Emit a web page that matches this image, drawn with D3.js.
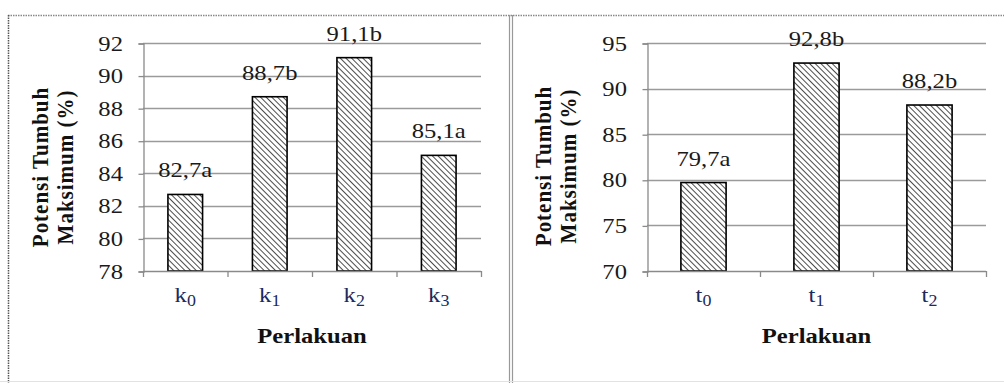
<!DOCTYPE html>
<html>
<head>
<meta charset="utf-8">
<script src="https://cdn.jsdelivr.net/npm/d3@7"></script>
<style>
  html, body { margin: 0; padding: 0; background: #fff; }
  svg { display: block; }
  svg text { font-family: "Liberation Serif", "Times New Roman", serif; }
</style>
</head>
<body>
<svg id="chart" width="1004" height="383"></svg>
<script>
// Perlakuan k (left panel)
const kCategories = ["0", "1", "2", "3"];
const kValues = [82.7, 88.7, 91.1, 85.1];
const kLetters = ["a", "b", "b", "a"];
const kTicks = [78, 80, 82, 84, 86, 88, 90, 92];

// Perlakuan t (right panel)
const tCategories = ["0", "1", "2"];
const tValues = [79.7, 92.8, 88.2];
const tLetters = ["a", "b", "b"];
const tTicks = [70, 75, 80, 85, 90, 95];

const yTitle = ["Potensi Tumbuh", "Maksimum (%)"];
const xTitle = "Perlakuan";

const SX = 1.12;          // slightly wide type
const FONT = "'Liberation Serif', 'Times New Roman', serif";

const svg = d3.select("#chart");

// diagonal hatch fill, strokes running top-left to bottom-right
const defs = svg.append("defs");
const pat = defs.append("pattern")
  .attr("id", "hatch")
  .attr("patternUnits", "userSpaceOnUse")
  .attr("width", 4).attr("height", 4)
  .attr("patternTransform", "rotate(45)");
pat.append("rect").attr("width", 4).attr("height", 4).attr("fill", "#fff");
pat.append("line").attr("x1", 0).attr("y1", 0).attr("x2", 4).attr("y2", 0)
  .attr("stroke", "#111").attr("stroke-width", 1.5);

// frame: dotted top & left edges, double divider, faint bottom line
svg.append("line").attr("x1", 8).attr("x2", 1004).attr("y1", 15.5).attr("y2", 15.5)
  .attr("stroke", "#888").attr("stroke-width", 1.5).attr("stroke-dasharray", "1.5,1");
svg.append("line").attr("x1", 8.5).attr("x2", 8.5).attr("y1", 15).attr("y2", 383)
  .attr("stroke", "#555").attr("stroke-width", 1.5).attr("stroke-dasharray", "1.5,1");
[509.5, 512.5].forEach(x => svg.append("line").attr("x1", x).attr("x2", x)
  .attr("y1", 15).attr("y2", 383).attr("stroke", "#999").attr("stroke-width", 1.2));
svg.append("line").attr("x1", 0).attr("x2", 1004).attr("y1", 381.5).attr("y2", 381.5)
  .attr("stroke", "#e2e2e2").attr("stroke-width", 1);

// text placed at (x, y) and widened horizontally
function wideText(parent, x, y, size, anchor) {
  return parent.append("text")
    .attr("transform", `translate(${x},${y}) scale(${SX},1)`)
    .attr("text-anchor", anchor || "middle")
    .attr("font-family", FONT)
    .attr("font-size", size);
}

function panel(cfg) {
  const { categories, values, letters, ticks, prefix, left, right, top, bottom, barRatio, titleX, titleY, xTitleY } = cfg;
  const g = svg.append("g");

  const x = d3.scaleBand().domain(categories).range([left, right])
    .paddingInner(1 - barRatio).paddingOuter((1 - barRatio) / 2);
  const xb = d3.scaleBand().domain(categories).range([left, right]);
  const y = d3.scaleLinear().domain([ticks[0], ticks[ticks.length - 1]]).range([bottom, top]);

  // gridlines
  g.append("g").selectAll("line").data(ticks.slice(1)).join("line")
    .attr("x1", left).attr("x2", right)
    .attr("y1", d => Math.round(y(d)) + 0.5).attr("y2", d => Math.round(y(d)) + 0.5)
    .attr("stroke", "#9a9a9a").attr("stroke-width", 1.3);

  // y axis (line + outer ticks); labels drawn separately below
  const yAxis = g.append("g").attr("transform", `translate(${left + 0.5},0.5)`)
    .call(d3.axisLeft(y).tickValues(ticks).tickSize(5).tickFormat(""));
  yAxis.select(".domain").attr("stroke", "#8a8a8a").attr("stroke-width", 1.3);
  yAxis.selectAll(".tick line").attr("stroke", "#8a8a8a").attr("stroke-width", 1.3);

  ticks.forEach(t => {
    wideText(g, left - 20, y(t) + 7.5, 22, "end").attr("fill", "#1a1a1a").text(d3.format("d")(t));
  });

  // bars
  g.append("g").selectAll("rect").data(values).join("rect")
    .attr("x", (d, i) => x(categories[i]))
    .attr("width", x.bandwidth())
    .attr("y", d => y(d))
    .attr("height", d => y(ticks[0]) - y(d))
    .attr("fill", "url(#hatch)")
    .attr("stroke", "#000").attr("stroke-width", 1.6);

  // x axis line with category boundary ticks
  g.append("line").attr("x1", left).attr("x2", right)
    .attr("y1", bottom + 0.5).attr("y2", bottom + 0.5)
    .attr("stroke", "#8a8a8a").attr("stroke-width", 1.3);
  const bounds = categories.map(c => xb(c)).concat([right]);
  g.append("g").selectAll("line").data(bounds).join("line")
    .attr("x1", d => d + 0.5).attr("x2", d => d + 0.5)
    .attr("y1", bottom).attr("y2", bottom + 6)
    .attr("stroke", "#8a8a8a").attr("stroke-width", 1.3);

  // value labels
  values.forEach((v, i) => {
    wideText(g, x(categories[i]) + x.bandwidth() / 2, y(v) - 17, 22)
      .attr("fill", "#1a1a1a")
      .text(d3.format(".1f")(v).replace(".", ",") + letters[i]);
  });

  // category labels with subscripts
  categories.forEach(c => {
    const t = wideText(g, xb(c) + xb.bandwidth() / 2, bottom + 31, 22).attr("fill", "#1c2a5e");
    t.append("tspan").text(prefix);
    t.append("tspan").attr("font-size", 16).attr("dy", 4).text(c);
  });

  // x title
  wideText(g, (left + right) / 2, xTitleY, 22)
    .attr("font-weight", "bold").attr("fill", "#111").text(xTitle);

  // y title (two rotated lines)
  yTitle.forEach((t, i) => {
    g.append("text")
      .attr("transform", `translate(${titleX + i * 25},${titleY}) scale(${SX},1) rotate(-90)`)
      .attr("text-anchor", "middle").attr("font-weight", "bold").attr("font-size", 21)
      .attr("font-family", FONT)
      .attr("letter-spacing", 1)
      .attr("fill", "#111").text(t);
  });
}

panel({
  categories: kCategories, values: kValues, letters: kLetters, ticks: kTicks, prefix: "k",
  left: 143, right: 481, top: 43, bottom: 271, barRatio: 0.41, titleX: 48, titleY: 167, xTitleY: 343
});

panel({
  categories: tCategories, values: tValues, letters: tLetters, ticks: tTicks, prefix: "t",
  left: 647, right: 986, top: 43, bottom: 271, barRatio: 0.4, titleX: 551, titleY: 166, xTitleY: 343
});
</script>
</body>
</html>
